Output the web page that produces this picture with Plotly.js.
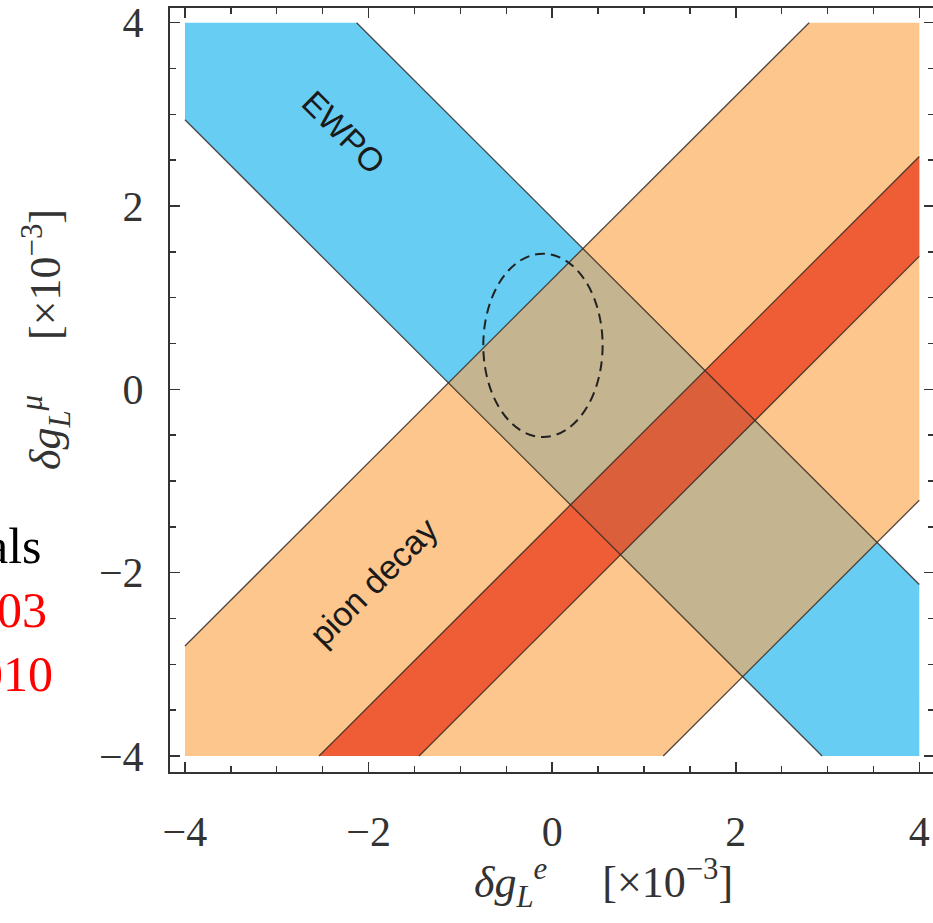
<!DOCTYPE html>
<html><head><meta charset="utf-8">
<script src="https://cdn.plot.ly/plotly-3.0.1.min.js"></script>
<style>html,body{margin:0;padding:0;overflow:hidden;background:#fff}</style>
</head><body><div id="chart" style="width:936px;height:923px"></div>
<script>
// ---- values (units of 1e-3) ----
const regionLimits = [-4, 4];              // square in which the bands are drawn
const ewpoSum = [-1.06, 1.87];             // EWPO band: bounds on δg_L^e + δg_L^μ
const pionDiffWide = [-5.21, 1.20];        // pion decay, wide band: bounds on δg_L^μ − δg_L^e
const pionDiffNarrow = [-2.55, -1.46];     // pion decay, narrow band: bounds on δg_L^μ − δg_L^e
const ellipseCentre = [-0.10, 0.48];       // dashed ellipse centre (δg_L^e, δg_L^μ)
const ellipseSemiAxes = [0.65, 1.00];      // dashed ellipse semi-axes
const tickValues = [-4, -2, 0, 2, 4];
const tickLabels = ['−4', '−2', '0', '2', '4'];
const bandLabels = ['EWPO', 'pion decay'];
const sideTexts = ['als', '03', '010'];

// ---- geometry helpers ----
function clip(poly, a, b, c) { // keep a*x + b*y <= c
  const out = [];
  for (let i = 0; i < poly.length; i++) {
    const P = poly[i], Q = poly[(i + 1) % poly.length];
    const fp = a * P[0] + b * P[1] - c, fq = a * Q[0] + b * Q[1] - c;
    if (fp <= 0) out.push(P);
    if ((fp < 0 && fq > 0) || (fp > 0 && fq < 0)) {
      const t = fp / (fp - fq);
      out.push([P[0] + t * (Q[0] - P[0]), P[1] + t * (Q[1] - P[1])]);
    }
  }
  return out;
}
function band(poly, a, b, lims) { return clip(clip(poly, a, b, lims[1]), -a, -b, -lims[0]); }
function segment(a, b, c) {
  const [lo, hi] = regionLimits, pts = [], eps = 1e-9;
  for (const x of [lo, hi]) { const y = (c - a * x) / b; if (y >= lo - eps && y <= hi + eps) pts.push([x, y]); }
  for (const y of [lo, hi]) { const x = (c - b * y) / a; if (x >= lo - eps && x <= hi + eps) pts.push([x, y]); }
  pts.sort((p, q) => p[0] - q[0]);
  return [pts[0], pts[pts.length - 1]];
}
const [lo, hi] = regionLimits;
const square = [[lo, lo], [hi, lo], [hi, hi], [lo, hi]];

const blue = band(square, 1, 1, ewpoSum);
const orange = band(square, -1, 1, pionDiffWide);
const red = band(square, -1, 1, pionDiffNarrow);
const tan = band(blue, -1, 1, pionDiffWide);
const darkRed = band(blue, -1, 1, pionDiffNarrow);

function polyTrace(poly, color) {
  const xs = poly.map(p => p[0]), ys = poly.map(p => p[1]);
  xs.push(xs[0]); ys.push(ys[0]);
  return { x: xs, y: ys, type: 'scatter', mode: 'lines', fill: 'toself', fillcolor: color,
           line: { width: 0, color: color }, hoverinfo: 'skip', showlegend: false };
}
function edgeTrace(a, b, c) {
  const s = segment(a, b, c);
  return { x: [s[0][0], s[1][0]], y: [s[0][1], s[1][1]], type: 'scatter', mode: 'lines',
           line: { width: 1.3, color: 'rgba(55,42,35,0.85)' }, hoverinfo: 'skip', showlegend: false };
}

const traces = [
  polyTrace(blue, 'rgb(104,205,243)'),
  polyTrace(orange, 'rgb(253,198,141)'),
  polyTrace(red, 'rgb(239,93,54)'),
  polyTrace(tan, 'rgb(197,180,144)'),
  polyTrace(darkRed, 'rgb(219,95,59)'),
  edgeTrace(1, 1, ewpoSum[0]), edgeTrace(1, 1, ewpoSum[1]),
  edgeTrace(-1, 1, pionDiffWide[0]), edgeTrace(-1, 1, pionDiffWide[1]),
  edgeTrace(-1, 1, pionDiffNarrow[0]), edgeTrace(-1, 1, pionDiffNarrow[1])
];

const serif = 'Liberation Serif, Times New Roman, serif';
const axisCommon = {
  tickmode: 'array', tickvals: tickValues, ticktext: tickLabels,
  ticks: 'inside', ticklen: 10, tickwidth: 1.6, tickcolor: '#333',
  minor: { dtick: 0.5, ticks: 'inside', ticklen: 6, tickwidth: 1.4, tickcolor: '#333' },
  showline: true, linecolor: '#333', linewidth: 2, mirror: 'ticks',
  showgrid: false, zeroline: false,
  tickfont: { family: serif, size: 42, color: '#333' }
};
const nb = '\u00a0\u00a0\u00a0\u00a0\u00a0';

const layout = {
  width: 936, height: 923,
  margin: { l: 170, r: 2, t: 8, b: 151 },
  paper_bgcolor: '#fff', plot_bgcolor: '#fff',
  xaxis: Object.assign({}, axisCommon, { range: [-4.163, 4.16], ticklabelstandoff: 22 }),
  yaxis: Object.assign({}, axisCommon, { range: [-4.175, 4.16], ticklabelstandoff: 16 }),
  shapes: [{
    type: 'circle', xref: 'x', yref: 'y',
    x0: ellipseCentre[0] - ellipseSemiAxes[0], x1: ellipseCentre[0] + ellipseSemiAxes[0],
    y0: ellipseCentre[1] - ellipseSemiAxes[1], y1: ellipseCentre[1] + ellipseSemiAxes[1],
    line: { color: '#222', width: 2, dash: '10px,6px' }
  }],
  annotations: [
    { text: bandLabels[0], x: -2.27, y: 2.80, xref: 'x', yref: 'y', showarrow: false, textangle: 45,
      font: { family: 'Liberation Sans, Arial, sans-serif', size: 33, color: '#1a1a1a' } },
    { text: bandLabels[1], x: -1.95, y: -2.10, xref: 'x', yref: 'y', showarrow: false, textangle: -45,
      font: { family: 'Liberation Sans, Arial, sans-serif', size: 34, color: '#1a1a1a' } },
    { text: '<i>δg</i><sub><i>L</i></sub><sup><i>e</i></sup>' + nb + '[×10<sup>−3</sup>]',
      xref: 'paper', yref: 'paper', x: (603 - 170) / 764, y: (772 - 883) / 764,
      xanchor: 'center', yanchor: 'middle', showarrow: false,
      font: { family: serif, size: 44, color: '#333' } },
    { text: '<i>δg</i><sub><i>L</i></sub><sup><i>μ</i></sup>' + nb + '[×10<sup>−3</sup>]',
      xref: 'paper', yref: 'paper', x: (46 - 170) / 764, y: (772 - 340) / 764,
      xanchor: 'center', yanchor: 'middle', showarrow: false, textangle: -90,
      font: { family: serif, size: 44, color: '#333' } },
    { text: sideTexts[0], xref: 'paper', yref: 'paper', x: (44 - 170) / 764, y: (772 - 546) / 764,
      xanchor: 'right', yanchor: 'middle', showarrow: false, font: { family: serif, size: 50, color: '#000' } },
    { text: sideTexts[1], xref: 'paper', yref: 'paper', x: (49 - 170) / 764, y: (772 - 610) / 764,
      xanchor: 'right', yanchor: 'middle', showarrow: false, font: { family: serif, size: 50, color: '#ff0000' } },
    { text: sideTexts[2], xref: 'paper', yref: 'paper', x: (55 - 170) / 764, y: (772 - 674) / 764,
      xanchor: 'right', yanchor: 'middle', showarrow: false, font: { family: serif, size: 50, color: '#ff0000' } }
  ]
};

Plotly.newPlot('chart', traces, layout, { displayModeBar: false, staticPlot: true });
</script>
</body></html>
